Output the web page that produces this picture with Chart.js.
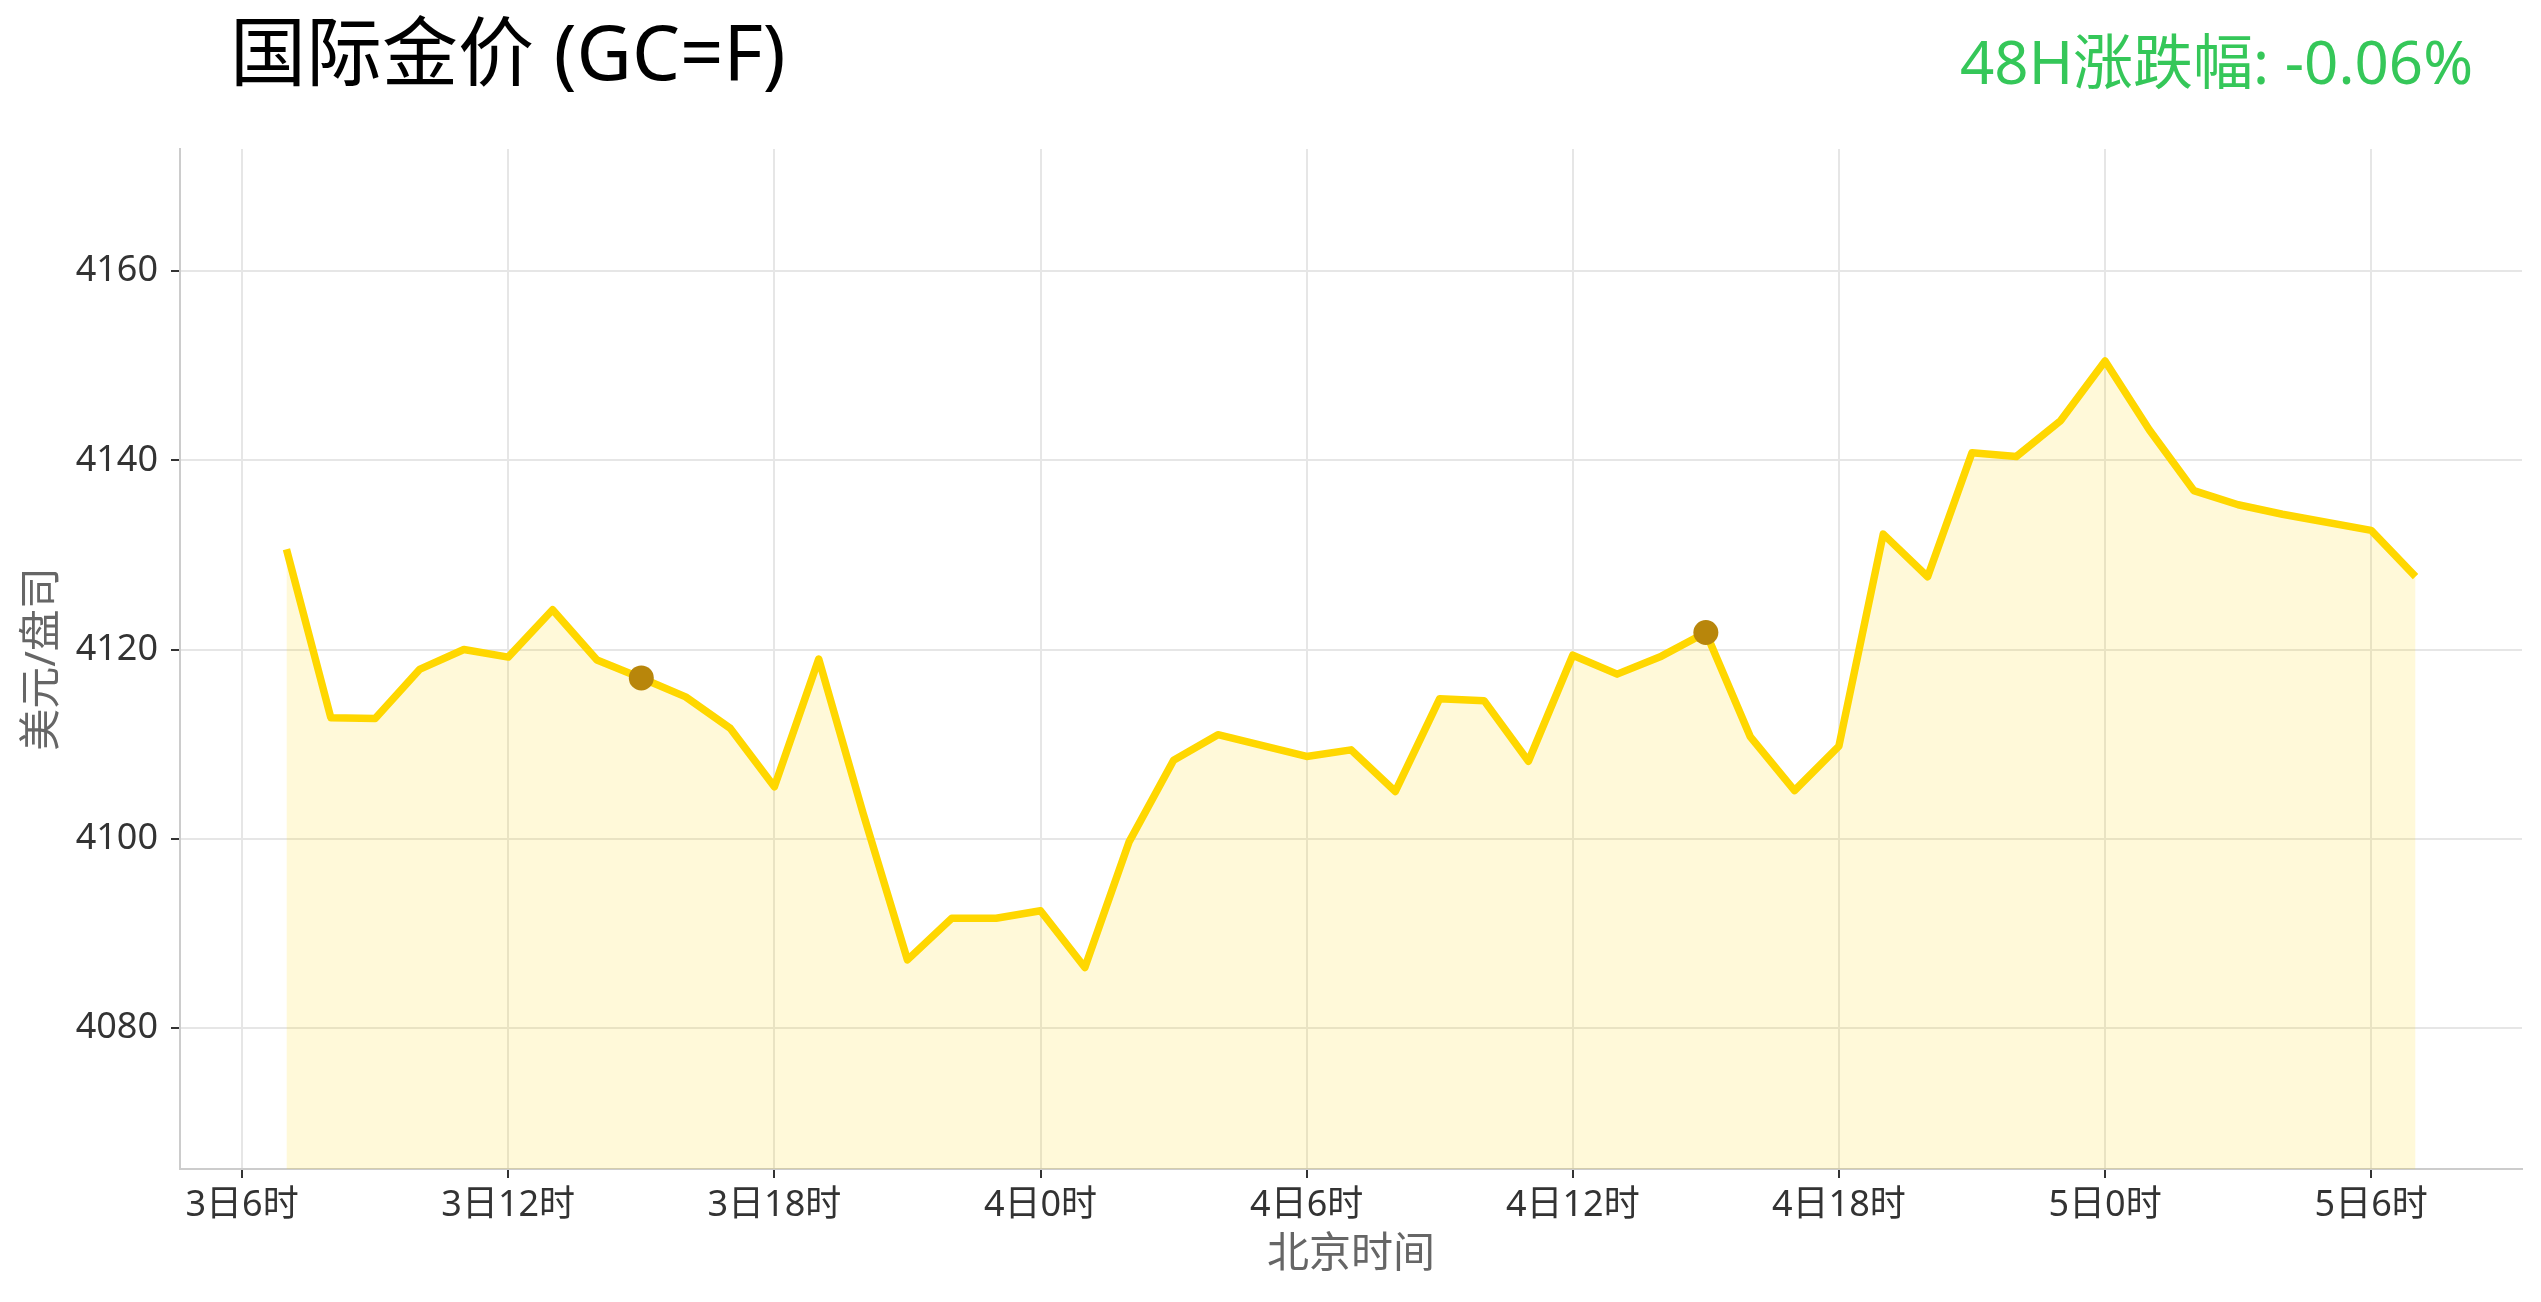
<!DOCTYPE html>
<html>
<head>
<meta charset="utf-8">
<title>国际金价 (GC=F)</title>
<script src="https://cdn.jsdelivr.net/npm/chart.js@4.4.0/dist/chart.umd.min.js"></script>
<style>
  html, body { margin: 0; padding: 0; background: #fff; }
  #wrap { position: relative; width: 2541px; height: 1302px; overflow: hidden; }
  #goldChart { position: absolute; left: 0; top: 0; }
  .hdr { position: absolute; white-space: nowrap; line-height: 1;
         font-family: "Noto Sans", "Noto Sans CJK SC", sans-serif; }
  #title { left: 230px; top: 13px; font-size: 76px; color: #000; }
  #change { right: 68px; top: 31px; font-size: 60px; color: #35c759; }
</style>
</head>
<body>
<div id="wrap">
  <div id="title" class="hdr">国际金价 (GC=F)</div>
  <div id="change" class="hdr">48H涨跌幅: -0.06%</div>
  <canvas id="goldChart" width="2541" height="1302" style="width:2541px;height:1302px"></canvas>
</div>
<script>
// ---------------------------------------------------------------
// data: hours counted from 3日0时 (Beijing time), hourly closes
// (4日5时 and 5日5时 have no bar - market break)
// ---------------------------------------------------------------
var hours = [7, 8, 9, 10, 11, 12, 13, 14, 15, 16, 17, 18, 19, 20, 21, 22, 23, 24,
             25, 26, 27, 28, 30, 31, 32, 33, 34, 35, 36, 37, 38, 39, 40, 41, 42,
             43, 44, 45, 46, 47, 48, 49, 50, 51, 52, 54, 55];
var prices = [4130.6, 4112.8, 4112.7, 4117.9, 4120.0, 4119.2, 4124.2, 4118.9, 4117.0,
              4115.0, 4111.7, 4105.5, 4119.0, 4102.7, 4087.2, 4091.6, 4091.6, 4092.4,
              4086.4, 4099.7, 4108.3, 4111.0, 4108.7, 4109.4, 4105.0, 4114.8, 4114.6,
              4108.2, 4119.4, 4117.4, 4119.3, 4121.8, 4110.8, 4105.1, 4109.8, 4132.2,
              4127.7, 4140.8, 4140.4, 4144.2, 4150.5, 4143.2, 4136.8, 4135.3, 4134.3,
              4132.6, 4127.7];

// the two highlighted points
var markHours = [15, 39];
var markPrices = [4117.0, 4121.8];

// axis ticks
var xTickHours = [6, 12, 18, 24, 30, 36, 42, 48, 54];
var xTickLabels = ['3日6时', '3日12时', '3日18时', '4日0时', '4日6时', '4日12时', '4日18时', '5日0时', '5日6时'];
var yTickValues = [4080, 4100, 4120, 4140, 4160];

// ---------------------------------------------------------------
function toPoints(xs, ys) {
  var pts = [];
  for (var i = 0; i < xs.length; i++) {
    pts.push({ x: xs[i], y: ys[i] });
  }
  return pts;
}

Chart.defaults.font.family = '"Noto Sans", "Noto Sans CJK SC", sans-serif';
Chart.defaults.color = '#333';

var chartCanvas = document.getElementById('goldChart');

var goldChart = new Chart(chartCanvas, {
  type: 'line',
  data: {
    datasets: [{
      label: '标记',
      data: toPoints(markHours, markPrices),
      showLine: false,
      pointRadius: 12.5,
      pointBorderWidth: 0,
      pointBackgroundColor: '#b8860b',
      pointBorderColor: '#b8860b',
      order: 0
    }, {
      label: '国际金价',
      data: toPoints(hours, prices),
      borderColor: '#ffd700',
      borderWidth: 7.5,
      borderJoinStyle: 'round',
      backgroundColor: 'rgba(255, 215, 0, 0.15)',
      fill: 'start',
      tension: 0,
      pointRadius: 0,
      order: 1
    }]
  },
  options: {
    responsive: false,
    animation: false,
    devicePixelRatio: 1,
    layout: { padding: { top: 149, right: 19, bottom: 0, left: 0 } },
    plugins: {
      legend: { display: false },
      tooltip: { enabled: false }
    },
    scales: {
      x: {
        type: 'linear',
        min: 4.6,
        max: 57.4,
        afterBuildTicks: function(scale) {
          scale.ticks = xTickHours.map(function(h) { return { value: h }; });
        },
        afterFit: function(scale) { scale.height = 133; },
        ticks: {
          font: { size: 36 },
          color: '#333',
          padding: 6,
          maxRotation: 0,
          autoSkip: false,
          callback: function(value, index) { return xTickLabels[index]; }
        },
        grid: {
          color: '#e6e6e6',
          lineWidth: 2,
          tickColor: '#333',
          tickLength: 9,
          tickWidth: 2
        },
        border: { color: '#cccccc', width: 2 },
        title: {
          display: true,
          text: '北京时间',
          color: '#666',
          font: { size: 42 },
          padding: { top: 0, bottom: 22 }
        }
      },
      y: {
        min: 4065.1,
        max: 4172.9,
        afterBuildTicks: function(scale) {
          scale.ticks = yTickValues.map(function(v) { return { value: v }; });
        },
        afterFit: function(scale) { scale.width = 180; },
        ticks: {
          font: { size: 36 },
          color: '#333',
          padding: 13,
          callback: function(value) { return String(value); }
        },
        grid: {
          color: '#e6e6e6',
          lineWidth: 2,
          tickColor: '#333',
          tickLength: 9,
          tickWidth: 2
        },
        border: { color: '#cccccc', width: 2 },
        title: {
          display: true,
          text: '美元/盘司',
          color: '#666',
          font: { size: 42 },
          padding: { top: 18, bottom: 0 }
        }
      }
    }
  }
});
</script>
</body>
</html>
